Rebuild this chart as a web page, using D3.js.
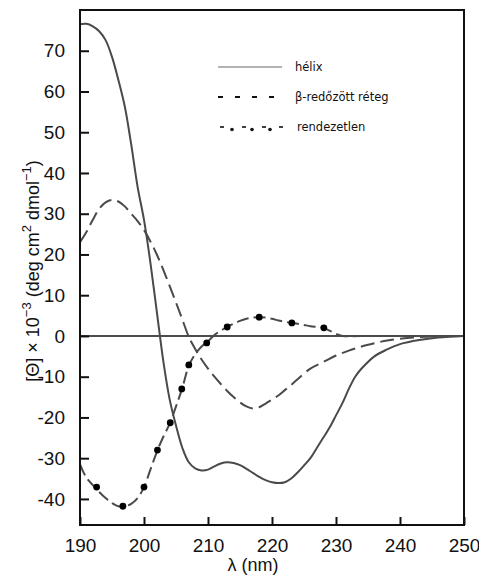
<!DOCTYPE html>
<html>
<head>
<meta charset="utf-8">
<script src="https://cdn.jsdelivr.net/npm/d3@7"></script>
<style>
  body { margin: 0; background: #fff; }
  svg { display: block; }
</style>
</head>
<body>
<svg id="chart" width="479" height="576"></svg>
<script>
// wavelengths (nm) and ellipticity values
let helixX = [190,191,192,193,194,195,196,197,198,199,200,201,202,203,204,205,206,207,208,209,210,211,212,213,214,215,216,217,218,219,220,221,222,223,224,225,226,227,228,229,230,231,232,233,234,236,238,240,243,246,250];
let helixY = [76.5,76.6,76.0,74.8,72.6,68.5,62.8,56.3,47.0,36.6,28.5,18.0,6.0,-6.0,-15.5,-22.0,-27.5,-31.0,-32.5,-33.0,-32.8,-32.0,-31.3,-31.0,-31.2,-31.7,-32.6,-33.6,-34.6,-35.4,-35.9,-36.1,-35.9,-35.0,-33.5,-31.8,-30.0,-27.5,-25.0,-22.5,-19.5,-16.5,-13.0,-10.0,-8.0,-5.0,-3.3,-2.0,-1.0,-0.4,0];

let sheetX = [190,191,192,193,194,195,196,197,198,199,200,201,202,203,204,205,206,207,208,209,210,211,212,213,214,215,216,217,218,219,220,221,222,223,224,226,228,230,232,234,236,238,240,243,246,250];
let sheetY = [23.0,25.5,28.5,31.2,32.8,33.4,33.0,31.8,30.0,28.2,26.0,23.2,20.0,16.3,12.3,8.2,4.0,-0.2,-3.2,-5.8,-8.0,-10.0,-11.8,-13.5,-15.0,-16.3,-17.3,-17.8,-17.5,-16.6,-15.6,-14.6,-13.3,-12.0,-10.6,-8.0,-6.4,-4.8,-3.6,-2.6,-1.8,-1.1,-0.7,-0.3,-0.1,0];

let coilX = [190,191,192,193,194,195,196,197,198,199,200,201,202,203,204,205,206,207,208,209,210,211,212,213,214,215,216,217,218,219,220,221,222,223,224,225,226,227,228,229,230,231,235,240,250];
let coilY = [-31.5,-34.8,-36.6,-38.3,-39.8,-41.0,-41.8,-41.8,-41.2,-39.8,-37.1,-32.8,-28.5,-24.8,-21.6,-17.3,-12.7,-7.3,-4.5,-2.6,-1.3,0.2,1.3,2.2,3.0,3.7,4.2,4.5,4.6,4.5,4.2,3.8,3.5,3.2,3.0,2.7,2.4,2.2,2.0,1.3,0.5,0,0,0,0];

// dot markers on the random-coil curve
let dotX = [192.6,196.7,200,202.1,204.1,205.9,207,209.8,213,218,223.1,228.1];
let dotY = [-37.1,-41.8,-37.1,-28,-21.3,-13,-7.1,-1.7,2.2,4.6,3.2,2.0];

let xTicks = [190,200,210,220,230,240,250];
let yTicks = [-40,-30,-20,-10,0,10,20,30,40,50,60,70];

let legendNames = ["hélix", "β-redőzött réteg", "rendezetlen"];

let plotLeft = 80, plotRight = 464, plotTop = 10, plotBottom = 525;
let curveColor = "#4a4a4a";

let svg = d3.select("#chart");

let x = d3.scaleLinear().domain([190, 250]).range([plotLeft, plotRight]);
let y = d3.scaleLinear().domain([-46.4, 80]).range([plotBottom, plotTop]);

let line = d3.line()
  .x(d => x(d[0]))
  .y(d => y(d[1]))
  .curve(d3.curveCatmullRom.alpha(0.5));

let zip = (xs, ys) => xs.map((v, i) => [v, ys[i]]);

// zero line
svg.append("line")
  .attr("x1", plotLeft).attr("x2", plotRight)
  .attr("y1", y(0)).attr("y2", y(0))
  .attr("stroke", "#111").attr("stroke-width", 1.6);

// curves
svg.append("path")
  .attr("d", line(zip(helixX, helixY)))
  .attr("fill", "none").attr("stroke", curveColor).attr("stroke-width", 2);

svg.append("path")
  .attr("d", line(zip(sheetX, sheetY)))
  .attr("fill", "none").attr("stroke", curveColor).attr("stroke-width", 2)
  .attr("stroke-dasharray", "14,6");

svg.append("path")
  .attr("d", line(zip(coilX, coilY)))
  .attr("fill", "none").attr("stroke", curveColor).attr("stroke-width", 2)
  .attr("stroke-dasharray", "12,5");

svg.selectAll("circle.dot")
  .data(zip(dotX, dotY))
  .enter()
  .append("circle")
  .attr("class", "dot")
  .attr("cx", d => x(d[0]))
  .attr("cy", d => y(d[1]))
  .attr("r", 3.4)
  .attr("fill", "#000");

// frame
svg.append("rect")
  .attr("x", plotLeft).attr("y", plotTop)
  .attr("width", plotRight - plotLeft).attr("height", plotBottom - plotTop)
  .attr("fill", "none").attr("stroke", "#111").attr("stroke-width", 2);

// axes with inward ticks
let yAxis = d3.axisLeft(y).tickValues(yTicks).tickSize(-9).tickPadding(15).tickFormat(d3.format("d"));
let gy = svg.append("g").attr("transform", "translate(" + plotLeft + ",0)").call(yAxis);
gy.select(".domain").remove();
gy.selectAll("line").attr("stroke", "#111").attr("stroke-width", 2);
gy.selectAll("text")
  .text(d => String(d))
  .attr("font-family", "Liberation Sans, Arial, sans-serif")
  .attr("font-size", 19).attr("fill", "#111");

let xAxis = d3.axisBottom(x).tickValues(xTicks).tickSize(-8).tickPadding(14).tickFormat(d3.format("d"));
let gx = svg.append("g").attr("transform", "translate(0," + plotBottom + ")").call(xAxis);
gx.select(".domain").remove();
gx.selectAll("line").attr("stroke", "#111").attr("stroke-width", 2);
gx.selectAll("text")
  .attr("font-family", "Liberation Sans, Arial, sans-serif")
  .attr("font-size", 19).attr("fill", "#111");

// axis titles
let yTitle = svg.append("text")
  .attr("transform", "translate(39,271) rotate(-90)")
  .attr("text-anchor", "middle")
  .attr("font-family", "Liberation Sans, Arial, sans-serif")
  .attr("font-size", 18).attr("fill", "#111");
yTitle.append("tspan").text("[Θ] × 10");
yTitle.append("tspan").attr("dy", -8).attr("font-size", 13).text("−3");
yTitle.append("tspan").attr("dy", 8).text(" (deg cm");
yTitle.append("tspan").attr("dy", -8).attr("font-size", 13).text("2");
yTitle.append("tspan").attr("dy", 8).text(" dmol");
yTitle.append("tspan").attr("dy", -8).attr("font-size", 13).text("−1");
yTitle.append("tspan").attr("dy", 8).text(")");

svg.append("text")
  .attr("x", 253).attr("y", 571)
  .attr("text-anchor", "middle")
  .attr("font-family", "Liberation Sans, Arial, sans-serif")
  .attr("font-size", 18).attr("fill", "#111")
  .text("λ (nm)");

// legend
let legY = [67, 97, 127];
let lg = svg.append("g");
lg.append("line").attr("x1", 218).attr("x2", 282).attr("y1", legY[0]).attr("y2", legY[0])
  .attr("stroke", "#666").attr("stroke-width", 1);
lg.append("line").attr("x1", 218).attr("x2", 280).attr("y1", legY[1]).attr("y2", legY[1])
  .attr("stroke", "#111").attr("stroke-width", 2.2).attr("stroke-dasharray", "5,12");
lg.selectAll("line.cd")
  .data([220, 242, 262, 279])
  .enter()
  .append("line")
  .attr("class", "cd")
  .attr("x1", d => d).attr("x2", d => d + 4)
  .attr("y1", legY[2]).attr("y2", legY[2])
  .attr("stroke", "#111").attr("stroke-width", 1.6);
lg.selectAll("circle")
  .data([232, 252, 270])
  .enter()
  .append("circle")
  .attr("cx", d => d).attr("cy", legY[2] + 2.5).attr("r", 1.8).attr("fill", "#111");
lg.selectAll("text")
  .data(legendNames)
  .enter()
  .append("text")
  .attr("x", (d, i) => i === 2 ? 297 : 295)
  .attr("y", (d, i) => legY[i] + 4)
  .attr("font-family", "Comic Sans MS, DejaVu Sans, sans-serif")
  .attr("font-size", 11.5).attr("fill", "#111")
  .text(d => d);
</script>
</body>
</html>
